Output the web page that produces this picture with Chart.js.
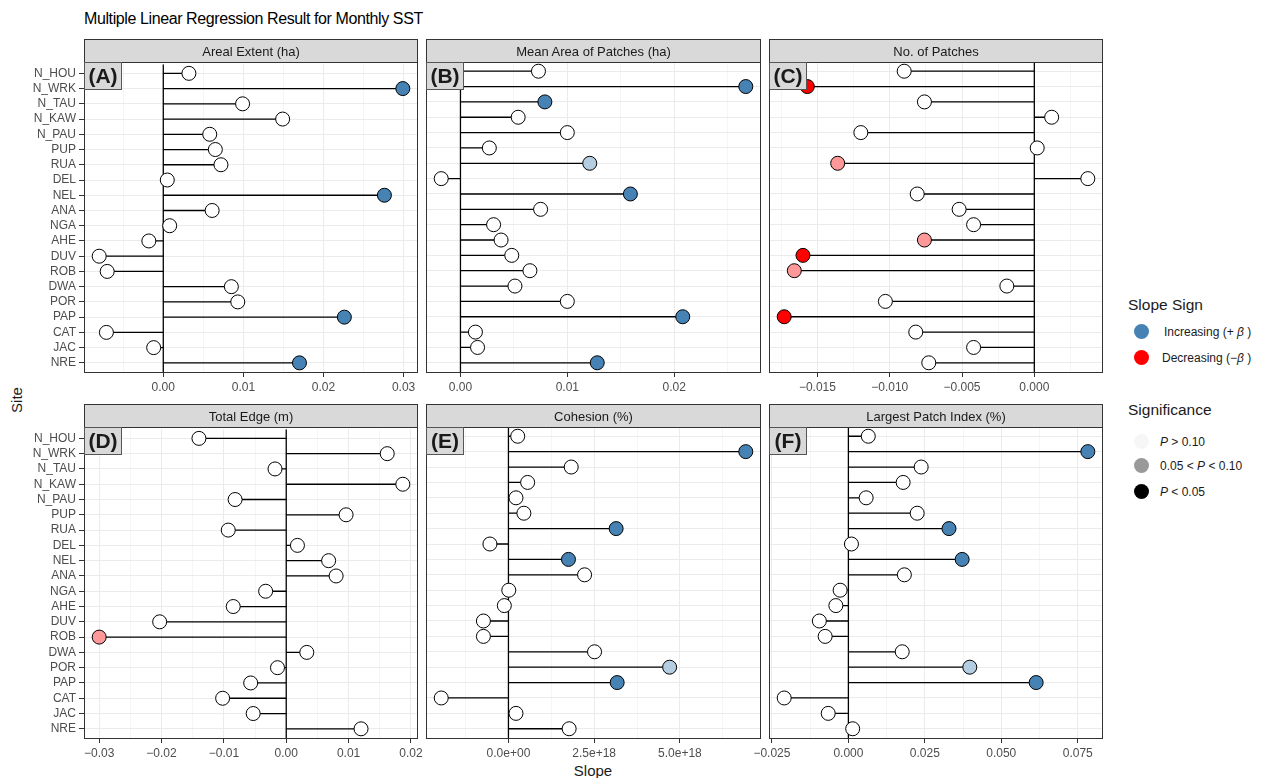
<!DOCTYPE html>
<html lang="en">
<head>
<meta charset="UTF-8">
<title>Multiple Linear Regression Result for Monthly SST</title>
<style>
  body { margin: 0; background: #fff; font-family: "Liberation Sans", Arial, sans-serif; }
  #wrap { position: relative; width: 1268px; height: 778px; overflow: hidden; background: #fff; }
  canvas { position: absolute; }
  .strip { position: absolute; box-sizing: border-box; border: 1px solid #333; background: #d9d9d9;
           color: #1a1a1a; font-size: 13px; display: flex; align-items: center; justify-content: center; }
  .frame { position: absolute; box-sizing: border-box; border: 1px solid #333; }
  .tag { position: absolute; box-sizing: border-box; border: 1px solid #555; background: #d9d9d9;
         font-weight: bold; font-size: 21px; color: #1a1a1a; display: flex; align-items: center; justify-content: center; }
  .txt { position: absolute; white-space: nowrap; color: #1a1a1a; }
  .dot { position: absolute; width: 15px; height: 15px; border-radius: 50%; }
</style>
</head>
<body>
<div id="wrap">
  <div class="txt" style="left:84px; top:11px; font-size:16px; line-height:16px; letter-spacing:-0.4px; color:#000">Multiple Linear Regression Result for Monthly SST</div>
  <div class="txt" style="left:16px; top:400px; font-size:15px; line-height:15px; transform: translate(-50%, -50%) rotate(-90deg);">Site</div>
  <div class="txt" style="left:593px; top:770px; font-size:15px; line-height:15px; transform: translate(-50%, -50%);">Slope</div>

  <div class="txt" style="left:1128px; top:297px; font-size:15.5px; line-height:16px">Slope Sign</div>
  <div class="dot" style="left:1134px; top:324px; background:#4682b4"></div>
  <div class="txt" style="left:1164px; top:325px; font-size:12px; line-height:14px">Increasing (+ <i>β</i> )</div>
  <div class="dot" style="left:1134px; top:350px; background:#ff0000"></div>
  <div class="txt" style="left:1162px; top:351px; font-size:12px; line-height:14px">Decreasing (−<i>β</i> )</div>

  <div class="txt" style="left:1128px; top:402px; font-size:15.5px; line-height:16px">Significance</div>
  <div class="dot" style="left:1134px; top:434px; background:#f6f6f6"></div>
  <div class="txt" style="left:1160px; top:435px; font-size:12px; line-height:14px"><i>P</i> &gt; 0.10</div>
  <div class="dot" style="left:1134px; top:458px; background:#999999"></div>
  <div class="txt" style="left:1160px; top:459px; font-size:12px; line-height:14px">0.05 &lt; <i>P</i> &lt; 0.10</div>
  <div class="dot" style="left:1134px; top:484px; background:#000000"></div>
  <div class="txt" style="left:1160px; top:485px; font-size:12px; line-height:14px"><i>P</i> &lt; 0.05</div>
</div>

<script src="https://cdn.jsdelivr.net/npm/chart.js"></script>
<script>
  const sites = ['N_HOU', 'N_WRK', 'N_TAU', 'N_KAW', 'N_PAU', 'PUP', 'RUA', 'DEL', 'NEL', 'ANA',
                 'NGA', 'AHE', 'DUV', 'ROB', 'DWA', 'POR', 'PAP', 'CAT', 'JAC', 'NRE'];

  // slopes per metric, same order as sites
  const arealExtent   = [0.0032, 0.0299, 0.0099, 0.0149, 0.0058, 0.0065, 0.0072, 0.0005, 0.0276, 0.0061,
                         0.0008, -0.0018, -0.0080, -0.0070, 0.0085, 0.0093, 0.0226, -0.0071, -0.0012, 0.0170];
  const meanPatchArea = [0.0073, 0.0267, 0.0079, 0.0054, 0.0100, 0.0027, 0.0121, -0.0018, 0.0159, 0.0075,
                         0.0031, 0.0038, 0.0048, 0.0065, 0.0051, 0.0100, 0.0208, 0.0014, 0.0016, 0.0128];
  const numPatches    = [-0.0090, -0.0157, -0.0076, 0.0012, -0.0120, 0.0002, -0.0136, 0.0037, -0.0081, -0.0052,
                         -0.0042, -0.0076, -0.0160, -0.0166, -0.0019, -0.0103, -0.0173, -0.0082, -0.0042, -0.0073];
  const totalEdge     = [-0.0140, 0.0162, -0.0018, 0.0187, -0.0082, 0.0096, -0.0093, 0.0018, 0.0068, 0.0080,
                         -0.0033, -0.0085, -0.0203, -0.0300, 0.0033, -0.0014, -0.0057, -0.0102, -0.0053, 0.0120];
  const cohesion      = [0.27e18, 6.92e18, 1.83e18, 0.56e18, 0.22e18, 0.45e18, 3.14e18, -0.54e18, 1.75e18, 2.22e18,
                         0.01e18, -0.12e18, -0.73e18, -0.73e18, 2.51e18, 4.70e18, 3.17e18, -1.96e18, 0.22e18, 1.77e18];
  const largestPatch  = [0.0065, 0.0783, 0.0238, 0.0179, 0.0058, 0.0225, 0.0329, 0.0010, 0.0372, 0.0183,
                         -0.0027, -0.0041, -0.0095, -0.0076, 0.0176, 0.0397, 0.0614, -0.0210, -0.0066, 0.0014];

  // significance: n = P > 0.10, m = 0.05 < P < 0.10, s = P < 0.05
  const arealExtentSig   = ['n','s','n','n','n','n','n','n','s','n','n','n','n','n','n','n','s','n','n','s'];
  const meanPatchAreaSig = ['n','s','s','n','n','n','m','n','s','n','n','n','n','n','n','n','s','n','n','s'];
  const numPatchesSig    = ['n','s','n','n','n','n','m','n','n','n','n','m','s','m','n','n','s','n','n','n'];
  const totalEdgeSig     = ['n','n','n','n','n','n','n','n','n','n','n','n','n','m','n','n','n','n','n','n'];
  const cohesionSig      = ['n','s','n','n','n','n','s','n','s','n','n','n','n','n','n','m','s','n','n','n'];
  const largestPatchSig  = ['n','s','n','n','n','n','s','n','s','n','n','n','n','n','n','m','s','n','n','n'];

  const panelTitles = ['Areal Extent (ha)', 'Mean Area of Patches (ha)', 'No. of Patches',
                       'Total Edge (m)', 'Cohesion (%)', 'Largest Patch Index (%)'];
  const panelTags = ['(A)', '(B)', '(C)', '(D)', '(E)', '(F)'];
  const panelValues = [arealExtent, meanPatchArea, numPatches, totalEdge, cohesion, largestPatch];
  const panelSig = [arealExtentSig, meanPatchAreaSig, numPatchesSig, totalEdgeSig, cohesionSig, largestPatchSig];
  const tickSteps = [0.01, 0.01, 0.005, 0.01, 2.5e18, 0.025];

  const colLeft = [84, 426, 769], colRight = [418, 761, 1103];
  const rowTop = [62, 427], rowBottom = [372, 738];
  const FONT = '"Liberation Sans", Arial, sans-serif';
  const wrap = document.getElementById('wrap');

  function fmtFixed(d) {
    return v => v.toFixed(d).replace('-', '\u2212');
  }
  function fmtSci(v) {
    if (v === 0) return '0.0e+00';
    const e = Math.floor(Math.log10(Math.abs(v)));
    const m = (v / Math.pow(10, e)).toFixed(1);
    return (m + 'e+' + String(e).padStart(2, '0')).replace('-', '\u2212');
  }
  const tickFormats = [fmtFixed(2), fmtFixed(2), fmtFixed(3), fmtFixed(2), fmtSci, fmtFixed(3)];

  function pointColor(v, s) {
    if (s === 'n') return '#ffffff';
    if (v >= 0) return s === 's' ? '#4682b4' : '#b5cde1';
    return s === 's' ? '#ff0000' : '#ff9999';
  }

  function addDiv(cls, left, top, width, height, text) {
    const d = document.createElement('div');
    d.className = cls;
    d.style.left = left + 'px';
    d.style.top = top + 'px';
    d.style.width = width + 'px';
    d.style.height = height + 'px';
    if (text) d.textContent = text;
    wrap.appendChild(d);
  }

  function makePanel(p) {
    const col = p % 3, row = Math.floor(p / 3);
    const L = colLeft[col], R = colRight[col], T = rowTop[row], B = rowBottom[row];
    const values = panelValues[p], sig = panelSig[p], step = tickSteps[p];
    const yW = col === 0 ? L : 0;
    const padL = col === 0 ? 0 : 25, padR = 25, padT = 8, xH = 30;

    // ggplot-like 5% expansion around data and zero
    const lo = Math.min(0, ...values), hi = Math.max(0, ...values);
    const ext = (hi - lo) * 0.05;
    const xmin = lo - ext, xmax = hi + ext;

    const canvas = document.createElement('canvas');
    canvas.width = yW + padL + (R - L) + padR;
    canvas.height = padT + (B - T) + xH;
    canvas.style.left = (L - yW - padL) + 'px';
    canvas.style.top = (T - padT) + 'px';
    wrap.appendChild(canvas);

    const stems = [];
    values.forEach((v, i) => { stems.push({x: 0, y: i}, {x: v, y: i}, {x: NaN, y: NaN}); });

    new Chart(canvas, {
      type: 'scatter',
      data: {
        datasets: [
          {
            data: values.map((v, i) => ({x: v, y: i})),
            pointRadius: 7,
            pointHoverRadius: 7,
            pointBackgroundColor: values.map((v, i) => pointColor(v, sig[i])),
            pointBorderColor: '#000',
            pointBorderWidth: 1,
            order: 1
          },
          {
            type: 'line',
            data: stems,
            borderColor: '#000',
            borderWidth: 1.3,
            pointRadius: 0,
            spanGaps: false,
            order: 2
          },
          {
            type: 'line',
            data: [{x: 0, y: -0.6}, {x: 0, y: 19.6}],
            borderColor: '#000',
            borderWidth: 1.3,
            pointRadius: 0,
            order: 3
          }
        ]
      },
      options: {
        responsive: false,
        animation: false,
        events: [],
        layout: { padding: { left: padL, right: padR, top: padT, bottom: 0 } },
        plugins: { legend: { display: false }, tooltip: { enabled: false } },
        scales: {
          x: {
            type: 'linear',
            min: xmin,
            max: xmax,
            afterBuildTicks: scale => {
              const half = step / 2;
              const k0 = Math.ceil(xmin / half - 1e-9), k1 = Math.floor(xmax / half + 1e-9);
              const ticks = [];
              for (let k = k0; k <= k1; k++) ticks.push({ value: k * half, isMajor: k % 2 === 0 });
              scale.ticks = ticks;
            },
            afterFit: scale => { scale.height = xH; },
            border: { display: false },
            grid: {
              color: '#ebebeb',
              lineWidth: ctx => (ctx.tick && ctx.tick.isMajor ? 1 : 0.5),
              tickColor: ctx => (ctx.tick && ctx.tick.isMajor ? '#333' : 'rgba(0,0,0,0)'),
              tickWidth: 1,
              tickLength: 5
            },
            ticks: {
              autoSkip: false,
              maxRotation: 0,
              minRotation: 0,
              padding: 3,
              color: '#4d4d4d',
              font: { family: FONT, size: 12 },
              callback: (v, i, ticks) => (ticks[i].isMajor ? tickFormats[p](v) : '')
            }
          },
          y: {
            type: 'linear',
            reverse: true,
            min: -0.6,
            max: 19.6,
            afterBuildTicks: scale => { scale.ticks = sites.map((s, i) => ({ value: i })); },
            afterFit: scale => { scale.width = yW; },
            border: { display: false },
            grid: {
              color: '#ebebeb',
              lineWidth: 1,
              drawTicks: col === 0,
              tickLength: 5,
              tickColor: '#333'
            },
            ticks: {
              display: col === 0,
              autoSkip: false,
              padding: 3,
              color: '#4d4d4d',
              font: { family: FONT, size: 12 },
              callback: v => sites[v]
            }
          }
        }
      }
    });

    addDiv('frame', L, T, R - L, B - T + 1);
    addDiv('strip', L, T - 23, R - L, 24, panelTitles[p]);
    addDiv('tag', L, T, 38, 28, panelTags[p]);
  }

  for (let p = 0; p < 6; p++) makePanel(p);
</script>
</body>
</html>
